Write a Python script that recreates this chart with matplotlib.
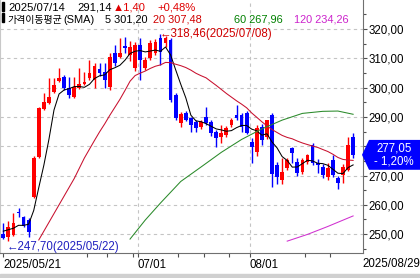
import numpy as np
import pandas as pd
import matplotlib
matplotlib.use('Agg')
import matplotlib.pyplot as plt
from matplotlib.patches import Polygon, Rectangle
from matplotlib import transforms

plt.rcParams['font.family'] = ['Liberation Sans', 'Noto Sans CJK KR', 'DejaVu Sans']
FS = 8.3
HFS = 8.1

# daily candles, 2025/05/21 .. 2025/08/29
opens = [250.0, 249.1, 249.8, 257.7, 255.7, 254.8, 262.8, 276.4, 292.7, 294.8,
         298.6, 302.3, 303.7, 300.0, 296.9, 300.0, 301.1, 303.2, 302.6, 306.3,
         305.2, 300.3, 311.7, 310.6, 314.3, 311.0, 306.6, 314.5, 306.6, 310.0,
         311.7, 316.8, 315.1, 316.3, 297.5, 288.0, 291.5, 289.5, 288.4, 286.7,
         290.1, 288.4, 285.0, 283.2, 283.8, 287.2, 290.7, 290.7, 291.2, 281.5,
         278.1, 286.7, 283.0, 290.8, 273.6, 268.5, 272.5, 279.3, 274.7, 271.3,
         274.7, 280.4, 274.4, 273.0, 269.6, 275.3, 269.1, 270.2, 272.0, 283.0]
highs = [253.8, 254.5, 257.3, 259.0, 256.2, 255.5, 276.5, 293.5, 298.3, 303.2,
         303.2, 306.6, 304.2, 303.7, 303.6, 306.6, 305.4, 309.4, 308.3, 308.3,
         308.3, 311.7, 314.5, 316.8, 317.4, 316.0, 315.5, 316.8, 310.6, 316.3,
         316.5, 318.46, 317.5, 317.0, 298.0, 291.8, 292.0, 290.0, 289.0, 289.0,
         293.5, 289.0, 285.5, 287.2, 287.0, 289.5, 294.1, 291.5, 292.0, 282.7,
         287.2, 287.5, 289.0, 291.5, 274.5, 275.9, 276.0, 279.8, 276.0, 276.0,
         277.5, 281.0, 275.5, 274.0, 274.2, 277.0, 270.0, 274.0, 283.2, 284.6]
lows = [248.2, 247.7, 249.2, 255.9, 252.3, 249.0, 262.3, 276.0, 292.3, 294.5,
        298.0, 302.0, 299.3, 296.4, 296.4, 299.5, 300.8, 302.6, 299.8, 304.0,
        299.8, 299.2, 307.5, 310.0, 311.7, 309.0, 305.5, 302.6, 306.0, 309.4,
        311.0, 307.7, 314.0, 295.0, 289.0, 286.7, 288.5, 285.0, 285.0, 286.0,
        287.3, 283.5, 279.8, 281.0, 283.0, 286.5, 288.8, 285.0, 284.0, 274.2,
        276.5, 280.5, 282.5, 266.2, 267.0, 267.0, 272.0, 274.2, 270.0, 270.5,
        274.0, 273.5, 271.0, 269.0, 268.5, 269.5, 265.5, 267.5, 271.5, 276.0]
closes = [248.8, 252.5, 253.7, 257.1, 252.8, 250.8, 275.9, 292.9, 295.2, 296.9,
          300.9, 303.2, 299.8, 297.5, 300.3, 301.1, 301.8, 304.9, 307.5, 304.9,
          302.6, 310.6, 308.3, 311.7, 313.6, 314.0, 314.5, 309.4, 309.4, 315.1,
          315.7, 312.3, 316.8, 295.8, 289.74, 291.14, 289.0, 287.2, 286.1, 288.4,
          287.8, 284.5, 282.7, 284.4, 286.1, 288.9, 289.5, 286.5, 284.4, 279.8,
          286.1, 282.0, 288.9, 270.5, 269.6, 271.3, 275.3, 277.6, 270.8, 275.3,
          277.0, 274.2, 273.6, 270.2, 272.5, 270.2, 267.4, 273.0, 280.41, 277.05]

# moving average parts that need history before the window
ma5_head = [251.0, 251.5, 252.0, 253.0]                  # days 0-3
ma20_head = [248.0, 251.0, 254.0, 257.0, 260.0, 263.0,   # days 7-18
             266.0, 269.0, 272.5, 276.0, 279.0, 282.0]
ma60_idx = [25, 28, 31, 35, 39, 43, 47, 51, 55, 59, 63, 66, 69]
ma60_val = [248.3, 254.8, 260.6, 267.96, 272.9, 277.9, 282.3, 285.9, 288.9,
            291.2, 291.9, 292.0, 290.9]
ma120_idx = [56, 60, 64, 69]
ma120_val = [247.6, 249.9, 252.6, 256.2]

date_ticks = [0, 26.55, 48.65]
date_labels = ['2025/05/21', '07/01', '08/01']
last_date = '2025/08/29'
minor_xticks = [16.5, 20.5, 25.5, 34.5, 39.5, 44.5, 59.5, 64.5]

W, H = 420, 278
fig = plt.figure(figsize=(W / 100, H / 100), dpi=100)
fig.patch.set_facecolor('white')
ax = fig.add_axes([0, 25 / H, 363 / W, 253 / H])

def fx(px):
    return px / W

def fy(py):
    return 1 - py / H

idx = np.arange(len(closes))
o = np.array(opens)
c = np.array(closes)
up = c >= o
cols = np.where(up, '#ff0000', '#0000ff')

# grid
for v in range(250, 330, 10):
    ax.axhline(v, color='#c4c4c4', lw=0.8, ls=(0, (3, 3)), zorder=0)
for t in date_ticks[1:]:
    ax.axvline(t, color='#c4c4c4', lw=0.8, ls=(0, (3, 3)), zorder=0)

# candles
ax.vlines(idx, lows, highs, colors=cols, lw=1.0, zorder=2)
body = np.maximum(np.abs(c - o), 0.35)
ax.bar(idx, body, bottom=np.minimum(o, c), width=0.74, color=cols,
       linewidth=0, zorder=2)

# moving averages
s = pd.Series(closes)
ma5 = s.rolling(5).mean().to_numpy()
ma5[:4] = ma5_head
ma20 = s.rolling(20).mean().to_numpy()
ma20[7:19] = ma20_head
ax.plot(idx, ma5, color='black', lw=0.75, zorder=3)
ax.plot(idx, ma20, color='#c8102e', lw=0.75, zorder=3)
ax.plot(ma60_idx, ma60_val, color='#2a8a2a', lw=0.75, zorder=3)
ax.plot(ma120_idx, ma120_val, color='#d030d0', lw=0.75, zorder=3)

# high / low markers
hi = int(np.argmax(highs))
lo = int(np.argmin(lows))
ax.text(hi - 0.15, highs[hi] - 0.3, '\u2190318,46(2025/07/08)', color='#d00000',
        fontsize=FS, ha='left', va='center', zorder=5)
ax.text(lo - 0.25, lows[lo] - 2.2, '\u2190247,70(2025/05/22)', color='#2020c0',
        fontsize=FS, ha='left', va='center', zorder=5)

ax.set_xlim(-0.65, 70.95)
ax.set_ylim(243.55, 329.9)

# axes styling
ax.spines['top'].set_visible(False)
ax.spines['left'].set_color('#c8c8c8')
ax.spines['right'].set_color('#707070')
ax.spines['bottom'].set_color('#707070')

yt = list(range(250, 330, 10))
ax.yaxis.tick_right()
ax.set_yticks(yt)
# 280 label sits under the price box
ax.set_yticklabels(['' if v == 280 else f'{v:.2f}'.replace('.', ',') for v in yt])
ax.set_yticks(range(245, 330, 10), minor=True)
ax.tick_params(axis='y', which='major', length=3, width=0.8, color='#505050',
               pad=0.8, labelsize=FS)
ax.tick_params(axis='y', which='minor', length=2, width=0.8, color='#505050')

ax.set_xticks(date_ticks)
ax.set_xticklabels(date_labels, ha='left')
ax.set_xticks(minor_xticks, minor=True)
ax.tick_params(axis='x', which='major', length=3, width=0.8, color='#505050',
               pad=1.0, labelsize=FS)
ax.tick_params(axis='x', which='minor', length=3, width=0.8, color='#505050')
fig.text(fx(420), fy(267), last_date, fontsize=FS, ha='right', va='baseline')

# current price box
tr = transforms.blended_transform_factory(ax.transAxes, ax.transData)
last = closes[-1]
box = Polygon([(362 / 363, last), (369 / 363, last + 5.1), (1.16, last + 5.1),
               (1.16, last - 5.1), (369 / 363, last - 5.1)], closed=True,
              facecolor='#0000ff', edgecolor='none', transform=tr,
              clip_on=False, zorder=6)
ax.add_patch(box)
chg = (closes[-1] / closes[-2] - 1) * 100
ax.text(394 / 363, last + 2.2, f'{last:.2f}'.replace('.', ','), color='white',
        fontsize=FS, ha='center', va='center', transform=tr, zorder=7)
ax.text(394 / 363, last - 2.3, f'{chg:.2f}%'.replace('.', ',').replace('-', '- '),
        color='white', fontsize=FS, ha='center', va='center', transform=tr,
        zorder=7)

# header lines
fig.patches.append(Rectangle((fx(2), fy(11)), 2 / W, 9 / H, color='black',
                             transform=fig.transFigure, figure=fig))
fig.patches.append(Rectangle((fx(2), fy(22.5)), 2 / W, 9 / H, color='black',
                             transform=fig.transFigure, figure=fig))
hdr = [
    (8, 11, '2025/07/14', 'black', HFS),
    (77, 11, '291,14', 'black', HFS),
    (113, 11, '\u25b21,40', '#e00000', HFS),
    (157, 11, '+0,48%', '#e00000', HFS),
    (63, 23, '(SMA)', 'black', 7.9),
    (105, 23, '5 301,20', 'black', 7.9),
    (153, 23, '20 307,48', '#d00000', 7.9),
    (234, 23, '60 267,96', '#008000', 7.9),
    (294, 23, '120 234,26', '#cc22cc', 7.9),
]
for px, py, txt, col, size in hdr:
    fig.text(fx(px), fy(py), txt, color=col, fontsize=size, ha='left',
             va='baseline')
fig.text(fx(7), fy(23), '가격이동평균', fontsize=7.2, family=['Noto Sans CJK KR'],
         ha='left', va='baseline')

# scroll bar strip at the bottom
fig.patches.append(Rectangle((0, 0), 1, 4 / H, color='#d0d0d0',
                             transform=fig.transFigure, figure=fig))

fig.savefig('out.png', dpi=100)
